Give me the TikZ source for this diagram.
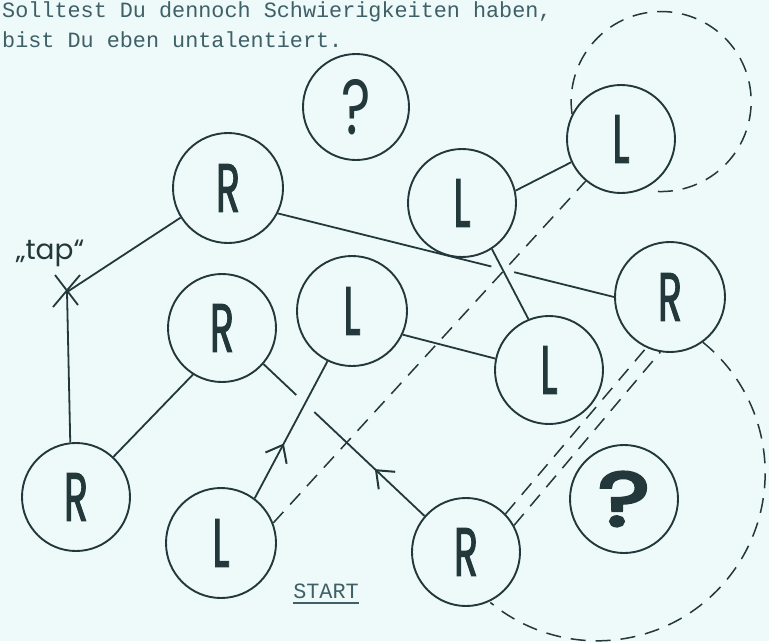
\documentclass[tikz,border=0pt]{standalone}
\usepackage{fontspec}
\setmainfont{Liberation Serif}
\newfontfamily\typefont{Liberation Mono}
\newfontfamily\letterfont{Poppins}[FakeBold=2]
\newfontfamily\qfont{Poppins}
\newfontfamily\qboldfont{Poppins}[FakeBold=4]
\usetikzlibrary{calc,decorations.markings}
\definecolor{ink}{RGB}{34,56,58}
\definecolor{bgc}{RGB}{238,249,250}
\definecolor{txt}{RGB}{62,96,102}
\newcommand\mylet[1]{{\letterfont\fontsize{68}{68}\selectfont\scalebox{0.58}[1]{#1}}}
\begin{document}
\begin{tikzpicture}[x=1pt,y=-1pt,
  circ/.style={circle, draw=ink, line width=1.9pt, minimum size=108pt, inner sep=0pt, text=ink},
  conn/.style={draw=ink, line width=1.8pt},
  dsh/.style={draw=ink, line width=1.5pt, dash pattern=on 15pt off 10pt},
  barb/.style={postaction={decorate}, decoration={markings, mark=at position #1 with {\draw[ink, line width=2pt, line join=miter] (-15pt,12pt) -- (0pt,0pt) -- (-15pt,-12pt);}}},
  typ/.style={font=\typefont\fontsize{21.8}{26}\selectfont, text=txt, inner sep=0pt}
]
\fill[bgc] (0,0) rectangle (769,641);
\useasboundingbox (0,0) rectangle (769,641);

% text
\node[typ, anchor=base west] (t1) at (2,17) {Solltest Du dennoch Schwierigkeiten haben,};
\node[typ, anchor=base west] (t2) at (2,47) {bist Du eben untalentiert.};
\node[typ, anchor=base] (start) at (326,598) {START};
\draw[txt, line width=1.4pt] ([yshift=-5pt]start.base west) -- ([yshift=-5pt]start.base east);

% nodes
\node[circ, minimum size=106pt] (q1) at (356,107) {{\qfont\fontsize{78}{78}\selectfont\scalebox{0.72}[1]{?}}};
\node[circ, minimum size=110pt] (R1) at (228,188) {\mylet{R}};
\node[circ] (L1) at (462,203) {\mylet{L}};
\node[circ] (L2) at (621,139) {\mylet{L}};
\node[circ, minimum size=110pt] (R2) at (670,297) {\mylet{R}};
\node[circ] (Rm) at (222,328) {\mylet{R}};
\node[circ, minimum size=110pt] (Lm) at (352,311) {\mylet{L}};
\node[circ] (L3) at (549,370) {\mylet{L}};
\node[circ] (Rbl) at (76,497) {\mylet{R}};
\node[circ, minimum size=110pt] (Ls) at (221,543) {\mylet{L}};
\node[circ] (Rbr) at (466,552) {\mylet{R}};
\node[circ] (q2) at (624,499) {{\qboldfont\fontsize{76}{76}\selectfont\scalebox{1.3}[1]{?}}};

% tap mark
\coordinate (X) at (67,292);
\draw[conn] ($(X)+(-14,15)$) -- ($(X)+(13,-17)$);
\draw[conn] ($(X)+(-12,-17)$) -- ($(X)+(11,13)$);
\node[font=\qfont\fontsize{28}{28}\selectfont, text=ink, inner sep=0pt] (tap) at (50,253) {„tap“};

% solid connectors
\draw[conn] (X) -- (R1.212);
\draw[conn] (X) -- (Rbl.96);
\draw[conn] (Rbl.47) -- (Rm.238);
\draw[conn] (Lm.-25) -- (L3.168);
\draw[conn] (L1.-57) -- (L3.112);
\draw[conn] (L1.13) -- (L2.205);
\draw[conn] (R1.-27) -- ($(R1.-27)!0.635!(R2.180)$);
\draw[conn] ($(R1.-27)!0.703!(R2.180)$) -- (R2.180);
\draw[conn, barb=0.44] (Rbr.139) -- ($(Rbr.139)!0.684!(Rm.-41)$);
\draw[conn] ($(Rbr.139)!0.797!(Rm.-41)$) -- (Rm.-41);
\draw[conn, barb=0.39] (Ls.53) -- (Lm.-116);

% dashed connectors
\draw[dsh] (Ls.21) -- (L2.230);
\draw[dsh] (Rbr.44) -- (R2.245);
\draw[dsh] (Rbr.29) -- (R2.260);
\draw[dsh] (L2.153) arc[start angle=188, end angle=-94, radius=90pt];
\draw[dsh] (R2.-54) arc[start angle=51, end angle=-129.5, radius=168pt];
\end{tikzpicture}
\end{document}
